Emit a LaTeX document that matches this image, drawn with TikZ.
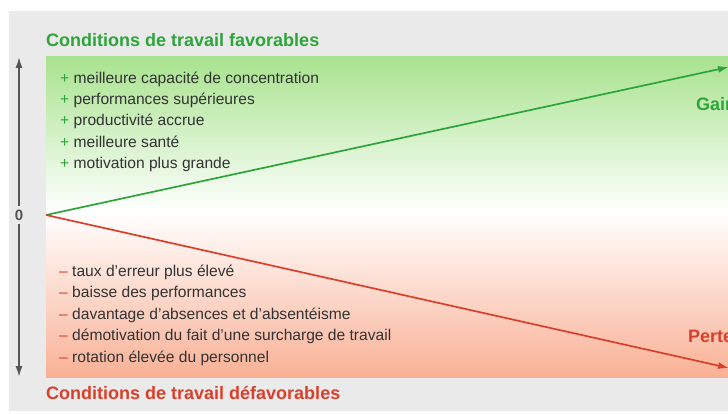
\documentclass[tikz,border=0pt]{standalone}
\usepackage{fontspec}
\setmainfont{Liberation Sans}
\definecolor{goodgreen}{HTML}{2DA53A}
\definecolor{badred}{HTML}{D9402B}
\definecolor{panelgray}{HTML}{EAEAEA}
\definecolor{topgreen}{HTML}{A8E38E}
\definecolor{bottomorange}{HTML}{F9B196}
\definecolor{axisgray}{HTML}{555555}
\definecolor{itemgray}{HTML}{333333}
\tikzset{
  heading/.style={anchor=base west,font=\bfseries\fontsize{18}{21}\selectfont},
  item/.style={anchor=base west,text=itemgray,font=\fontsize{15.6}{18}\selectfont,inner sep=0pt},
  curve/.style={line width=1.7pt,-{Latex[length=11pt,width=7pt]}},
}
\usetikzlibrary{arrows.meta}
\begin{document}
\begin{tikzpicture}[x=1pt,y=-1pt]
    \useasboundingbox (0,0) rectangle (728,414);
    \clip (0,0) rectangle (728,414);
    % background and gradient field
    \fill[panelgray] (9,11) rectangle (728,411);
    \shade[top color=topgreen,bottom color=white] (46,57) rectangle (728,212);
    \shade[top color=white,bottom color=bottomorange] (46,212) rectangle (728,377);

    % axis
    \node[text=axisgray,font=\bfseries\fontsize{15}{17}\selectfont] (zero) at (19,215) {0};
    \coordinate (axtop) at (19,57);
    \coordinate (axbot) at (19,377);
    \draw[axisgray,line width=1.6pt,-{Latex[length=11pt,width=7pt]}] (zero.north)--(axtop);
    \draw[axisgray,line width=1.6pt,-{Latex[length=11pt,width=7pt]}] (zero.south)--(axbot);

    % gain and loss
    \coordinate (origin) at (46,215);
    \coordinate (gainend) at (729,67);
    \coordinate (lossend) at (729,368);
    \draw[curve,goodgreen] (origin)--(gainend);
    \draw[curve,badred] (origin)--(lossend);
    \node[heading,text=goodgreen,inner sep=0pt] (gain) at (696,111) {Gain};
    \node[heading,text=badred,inner sep=0pt] (loss) at (688,342) {Perte};

    % headings
    \node[heading,text=goodgreen,inner sep=0pt] (good) at (46,47) {Conditions de travail favorables};
    \node[heading,text=badred,inner sep=0pt] (bad) at (46,399) {Conditions de travail défavorables};

    % lists
    \foreach \txt [count=\i] in {meilleure capacité de concentration,performances supérieures,productivité accrue,meilleure santé,motivation plus grande}
        \node[item] (plus\i) at (60,{62+21.3*\i}) {{\color{goodgreen}+} \txt};
    \foreach \txt [count=\i] in {taux d’erreur plus élevé,baisse des performances,davantage d’absences et d’absentéisme,démotivation du fait d’une surcharge de travail,rotation élevée du personnel}
        \node[item] (minus\i) at (59,{254.5+21.5*\i}) {{\color{badred}–} \txt};
\end{tikzpicture}
\end{document}
